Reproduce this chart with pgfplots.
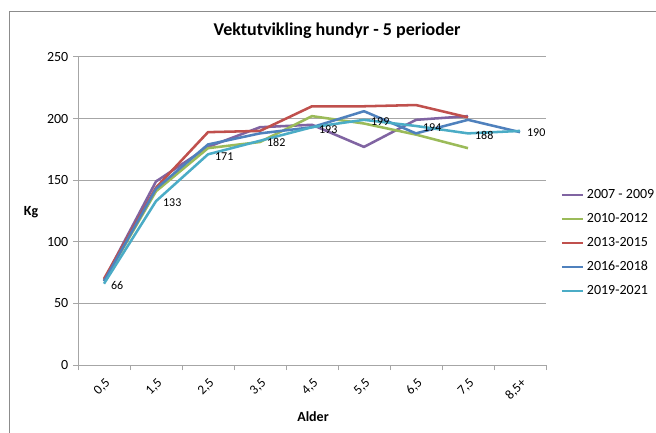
\documentclass[border=0pt]{standalone}
\usepackage{fontspec}
\setmainfont{Carlito}
\usepackage{pgfplots}
\pgfplotsset{compat=1.18}
\definecolor{cPurple}{HTML}{8064A2}
\definecolor{cGreen}{HTML}{9BBB59}
\definecolor{cRed}{HTML}{C0504D}
\definecolor{cBlue}{HTML}{4F81BD}
\definecolor{cCyan}{HTML}{4BACC6}
\definecolor{cGrid}{HTML}{A6A6A6}
\definecolor{cFrame}{HTML}{8C8C8C}
\begin{document}
\begin{tikzpicture}[x=0.75pt,y=0.75pt]
\useasboundingbox (0,0) rectangle (656,432);
\fill[white] (0,0) rectangle (656,432);
\draw[cFrame, line width=0.75pt] (9,-20) -- (9,420) -- (700,420);
\node[font=\bfseries\fontsize{13.5}{16}\selectfont] at (337,401) {Vektutvikling hundyr - 5 perioder};
\node[font=\bfseries\fontsize{10.5}{12}\selectfont] at (31,220) {Kg};
\node[font=\bfseries\fontsize{10.5}{12}\selectfont] at (313,15) {Alder};
\begin{axis}[
  at={(58.5pt,50.25pt)}, anchor=south west,
  scale only axis, width=351pt, height=231pt,
  xmin=-0.5, xmax=8.5, ymin=0, ymax=250,
  xtick={0,...,8},
  xticklabels={{0,5},{1,5},{2,5},{3,5},{4,5},{5,5},{6,5},{7,5},{8,5+}},
  minor xtick={-0.5,0.5,...,8.5},
  ytick={0,50,...,250},
  axis x line*=bottom, axis y line*=left,
  axis line style={cGrid, line width=0.75pt, -},
  ymajorgrids, grid style={cGrid, line width=0.75pt},
  tick align=outside,
  major tick length=3.75pt, minor tick length=3.75pt,
  major x tick style={draw=none},
  minor x tick style={cGrid, line width=0.75pt},
  major y tick style={cGrid, line width=0.75pt},
  /pgf/number format/assume math mode=true,
  ticklabel style={font=\fontsize{10.5}{12}\selectfont},
  xticklabel style={rotate=45, anchor=north east, inner sep=1pt, yshift=-3pt, xshift=-2.5pt, font=\fontsize{10}{12}\selectfont},
  legend style={at={(1.0256,0.5877)}, anchor=north west, draw=none, fill=none,
    font=\fontsize{10.5}{12}\selectfont, row sep=5.5pt, inner sep=2pt},
  legend cell align=left,
  legend image code/.code={\draw[#1, line width=1.5pt] (0pt,0pt) -- (16pt,0pt);},
  every axis plot/.append style={line width=1.9pt, line join=round},
]
\addplot[cPurple, mark=none] coordinates {(0,69) (1,149) (2,177) (3,193) (4,195) (5,177) (6,199) (7,202)};
\addlegendentry{2007 - 2009}
\addplot[cGreen, mark=none] coordinates {(0,68) (1,141) (2,176) (3,181) (4,202) (5,196) (6,187) (7,176)};
\addlegendentry{2010-2012}
\addplot[cRed, mark=none] coordinates {(0,70) (1,144) (2,189) (3,190) (4,210) (5,210) (6,211) (7,201)};
\addlegendentry{2013-2015}
\addplot[cBlue, mark=none] coordinates {(0,68) (1,143) (2,179) (3,188) (4,193) (5,206) (6,188) (7,199) (8,189)};
\addlegendentry{2016-2018}
\addplot[cCyan, mark=none, nodes near coords,
  every node near coord/.append style={anchor=west, black, font=\fontsize{9}{10}\selectfont, xshift=2pt, yshift=-1.5pt, line width=0pt}]
  coordinates {(0,66) (1,133) (2,171) (3,182) (4,193) (5,199) (6,194) (7,188) (8,190)};
\addlegendentry{2019-2021}
\end{axis}
\end{tikzpicture}
\end{document}
